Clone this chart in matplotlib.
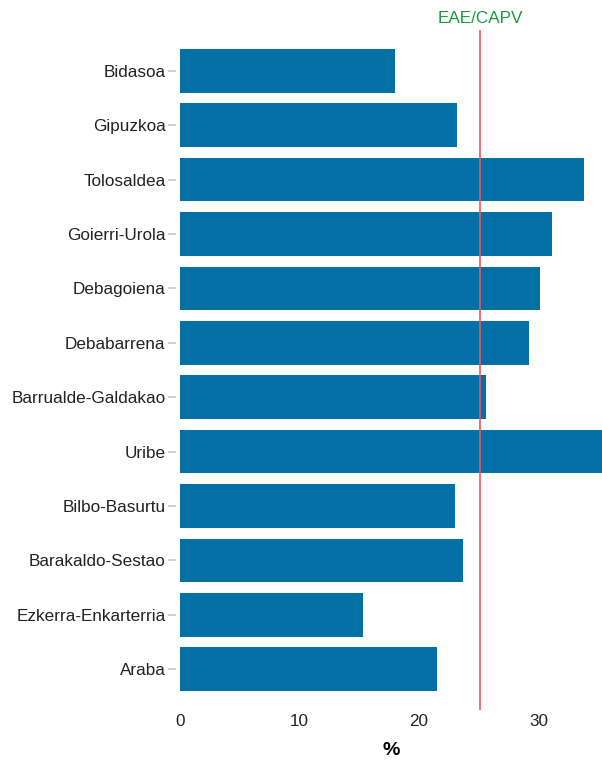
import matplotlib
matplotlib.use('Agg')
import matplotlib.pyplot as plt

plt.rcParams['font.family'] = ['Liberation Sans', 'DejaVu Sans']

# data (percent)
regions = ['Bidasoa', 'Gipuzkoa', 'Tolosaldea', 'Goierri-Urola', 'Debagoiena',
           'Debabarrena', 'Barrualde-Galdakao', 'Uribe', 'Bilbo-Basurtu',
           'Barakaldo-Sestao', 'Ezkerra-Enkarterria', 'Araba']
values = [18.0, 23.2, 33.8, 31.1, 30.1, 29.2, 25.6, 35.5, 23.0, 23.7, 15.3, 21.5]
eae_value = 25.1
eae_label = 'EAE/CAPV'
xticks = [0, 10, 20, 30]

fig = plt.figure(figsize=(6.02, 7.61), dpi=100)
ax = fig.add_axes([0.299, 0.067, 0.701, 0.8936])

pos = list(range(len(regions)))
ax.barh(pos, values, height=0.8, color='#0570a5')
ax.axvline(eae_value, color='#f0565a', lw=1.2)
ax.text(eae_value, -0.82, eae_label, color='#1a9a3a', fontsize=12.3,
        ha='center', va='bottom')

ax.spines['left'].set_position(('outward', 3))
for s in ax.spines.values():
    s.set_visible(False)

ax.set_xlim(0, 35.3)
ax.set_ylim(len(regions) - 0.25, -0.75)
ax.set_yticks(pos)
ax.set_yticklabels(regions)
ax.set_xticks(xticks)
ax.set_xticklabels([str(t) for t in xticks])
ax.tick_params(axis='y', length=5.5, width=1.2, color='#c8c8c8', pad=2,
               labelsize=12.3, labelcolor='#222222')
ax.tick_params(axis='x', length=0, pad=3, labelsize=12.3, labelcolor='#222222')
ax.set_xlabel('%', fontsize=14, fontweight='bold', labelpad=9)

fig.savefig('out.png', dpi=100)
